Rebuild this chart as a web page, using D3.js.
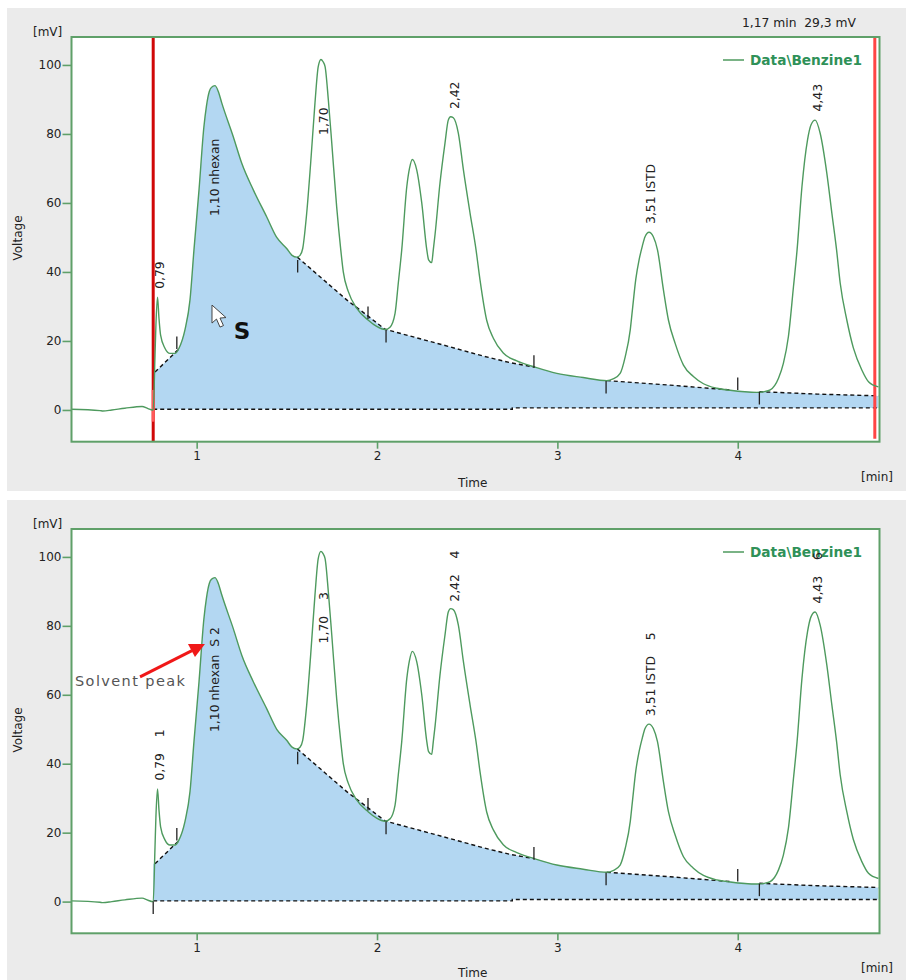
<!DOCTYPE html>
<html><head><meta charset="utf-8">
<script src="https://cdn.jsdelivr.net/npm/d3@7/dist/d3.min.js"></script>
<style>
html,body{margin:0;padding:0;background:#fff}
svg{display:block}
text{font-family:"DejaVu Sans",sans-serif;font-size:12px;fill:#222;white-space:pre}
</style></head><body><div id="c"></div>
<script>
// signal trace: retention time [min], voltage [mV]
const traceTime = [0.303,0.464,0.48,0.53,0.602,0.697,0.73,0.755,0.759,0.769,0.774,0.783,0.791,0.800,0.824,0.852,0.880,0.902,0.935,0.963,0.985,1.013,1.040,1.054,1.070,1.082,1.101,1.120,1.139,1.203,1.250,1.314,1.388,1.444,1.499,1.529,1.555,1.573,1.588,1.610,1.632,1.656,1.674,1.689,1.700,1.712,1.730,1.749,1.776,1.799,1.813,1.841,1.887,1.952,1.998,2.044,2.072,2.100,2.118,2.137,2.165,2.180,2.196,2.220,2.248,2.276,2.286,2.303,2.312,2.322,2.349,2.377,2.395,2.408,2.423,2.451,2.479,2.516,2.549,2.571,2.608,2.645,2.700,2.775,2.876,2.997,3.143,3.274,3.309,3.348,3.376,3.404,3.416,3.435,3.453,3.471,3.486,3.508,3.532,3.555,3.588,3.616,3.653,3.699,3.754,3.810,3.884,3.958,4.106,4.147,4.180,4.226,4.253,4.281,4.309,4.329,4.356,4.387,4.406,4.429,4.457,4.494,4.522,4.548,4.568,4.605,4.641,4.688,4.725,4.780];
const traceVolt = [0.2,-0.2,-0.3,0.0,0.5,1.0,0.4,0.0,0.0,15.8,24.5,32.7,26.6,21.7,17.9,16.4,16.4,17.9,23.2,31.9,46.4,63.8,82,88,92.3,93.5,94,92.3,89,79.2,71.5,63.8,56,50,46.8,44.8,44.3,44.8,46.8,57,71.5,89,99.5,101.6,101,99.5,89.9,77.4,59,46.4,40,34.3,29.5,26,24.2,23.3,24,28,36.8,46.4,64.7,70,72.6,69.6,60,46.4,43.5,42.7,46.4,51,65.7,77.4,84,85,84.7,80.2,69.6,57,46.4,37.7,26,20.8,16.5,14.2,12.4,10.6,9.4,8.5,9,10.6,15.4,23.2,29,38,43.5,47.5,50.2,51.5,50.2,46.4,34.8,26,19.3,13,9.7,7.6,6.3,5.7,5.1,5.3,5.8,9.2,13.5,21.3,35.7,46.4,64.7,78.3,82.6,84,80.2,68.6,57,46.4,36.8,26,18,11.6,8.2,6.7];

// integration baselines (dashed)
const baseTimes = [[0.769,0.902],[1.558,1.832,1.943,2.044,2.404,2.590,2.738,2.876],[3.274,3.625,3.958],[4.12,4.44,4.77]];
const baseVolts = [[11,17.7],[44.3,31.9,27.5,23.4,18.3,15.6,13.7,12.4],[8.5,7.2,5.8],[5.3,4.6,4.1]];
const zeroTimes = [0.759,2.75,2.75,4.78];
const zeroVolts = [0.2,0.2,0.6,0.6];

// peak boundary markers: time, mV, direction
const markTimes = [0.89,1.56,1.95,2.05,2.87,3.27,4.0,4.12];
const markVolts = [17.7,43.5,26.4,23.2,12.2,8.4,5.8,5.2];
const markDirs  = [1,-1,1,-1,1,-1,1,-1];
const startMarkTime = 0.759, startMarkVolt = 0;

// peak labels
const peakTimes = [0.796,1.101,1.702,2.428,3.517,4.44];
const labelsTop = ["0,79","1,10 nhexan","1,70","2,42","3,51 ISTD","4,43"];
const labelsBot = ["0,79    1","1,10 nhexan  S 2","1,70    3","2,42    4","3,51 ISTD    5","4,43    6"];
const labelVoltsTop = [35.1,56.2,79.7,87.2,53.9,86.5];
const labelVoltsBot = [35.1,49.2,74.9,87,53.8,86.5];

const xTicks = [1,2,3,4];
const yTicks = [0,20,40,60,80,100];
const xDomain = [0.306,4.786];
const yDomain = [-9.2,108.1];
const legendText = "Data\\Benzine1";
const readoutText = "1,17 min  29,3 mV";
const cursorTimes = [0.759,4.76];
const pointerAt = [1.085,30.4];
const sAt = [1.205,20.5];
const arrowFrom = [0.686,65.2];
const arrowTo = [1.046,74.7];

const green="#5fa069", trace="#4e9a5e", red="#d00808", fill="#b3d7f2";
const svg=d3.select("#c").append("svg").attr("width",906).attr("height",980);

function panel(opts){
  const {gy,gh,top,bottom}=opts;
  const g=svg.append("g");
  g.append("rect").attr("x",7).attr("y",gy).attr("width",899).attr("height",gh).attr("fill","#ebebeb");
  const x=d3.scaleLinear().domain(xDomain).range([71.5,879.5]);
  const y=d3.scaleLinear().domain(yDomain).range([bottom,top]);
  g.append("rect").attr("x",71.5).attr("y",top).attr("width",808).attr("height",bottom-top).attr("fill","#fff");

  const line=d3.line().x(d=>x(d[0])).y(d=>y(d[1]));
  const smooth=d3.line().x(d=>x(d[0])).y(d=>y(d[1])).curve(d3.curveMonotoneX);
  // fill polygon: baseline, trace in the peak-free stretches, zero line back
  const traceSlice=(a,b)=>traceTime.map((t,i)=>[t,traceVolt[i]]).filter(d=>d[0]>a&&d[0]<b);
  const seg=i=>baseTimes[i].map((t,j)=>[t,baseVolts[i][j]]);
  const upper=[...seg(0),...traceSlice(0.902,1.558),...seg(1),...traceSlice(2.876,3.274),...seg(2),...traceSlice(3.958,4.12),...seg(3),[xDomain[1]-0.007,4.0]];
  const lower=zeroTimes.map((t,i)=>[t,zeroVolts[i]]).reverse();
  g.append("path").attr("d",line([[0.759,zeroVolts[0]],[0.759,11],...upper,...lower])+"Z").attr("fill",fill);

  // dashed baselines
  const dashed=[seg(0),seg(1),seg(2),seg(3).concat([[4.78,4.0]]),zeroTimes.map((t,i)=>[t,zeroVolts[i]])];
  g.selectAll(".dash").data(dashed).join("path").attr("class","dash").attr("d",line)
    .attr("fill","none").attr("stroke","#111").attr("stroke-width",1.4).attr("stroke-dasharray","4 3");

  // cursors under the trace (top panel)
  if(opts.cursors){
    g.append("line").attr("x1",x(cursorTimes[0])).attr("x2",x(cursorTimes[0])).attr("y1",top).attr("y2",bottom)
      .attr("stroke",red).attr("stroke-width",3);
    g.append("line").attr("x1",x(cursorTimes[0])).attr("x2",x(cursorTimes[0])).attr("y1",y(5.8)).attr("y2",y(-3.4))
      .attr("stroke","#ff5a5a").attr("stroke-width",3);
    g.append("line").attr("x1",x(cursorTimes[1])).attr("x2",x(cursorTimes[1])).attr("y1",top).attr("y2",bottom-3)
      .attr("stroke","#ff4545").attr("stroke-width",3);
  }

  // trace
  g.append("path").attr("d",smooth(traceTime.map((t,i)=>[t,traceVolt[i]]))).attr("fill","none")
    .attr("stroke",trace).attr("stroke-width",1.4).attr("stroke-linejoin","round");

  // boundary markers
  const markLen=12.5;
  const marks=markTimes.map((t,i)=>[t,markVolts[i],markDirs[i]]);
  if(opts.startMark) marks.push([startMarkTime,startMarkVolt,-1]);
  g.selectAll(".mark").data(marks).join("line").attr("class","mark")
    .attr("x1",d=>x(d[0])).attr("x2",d=>x(d[0])).attr("y1",d=>y(d[1])).attr("y2",d=>y(d[1])-d[2]*markLen)
    .attr("stroke","#222").attr("stroke-width",1.3);

  // frame
  g.append("rect").attr("x",71.5).attr("y",top).attr("width",808).attr("height",bottom-top)
    .attr("fill","none").attr("stroke",green).attr("stroke-width",2);

  // axes
  const ax=g.append("g").attr("transform",`translate(0,${bottom})`).call(d3.axisBottom(x).tickValues(xTicks).tickFormat(d3.format("d")).tickSize(7).tickPadding(3));
  const ay=g.append("g").attr("transform","translate(71.5,0)").call(d3.axisLeft(y).tickValues(yTicks).tickSize(9).tickPadding(1));
  [ax,ay].forEach(a=>{a.select(".domain").remove();a.selectAll("line").attr("stroke",green).attr("stroke-width",1.6);
    a.selectAll("text").style("font-family","'DejaVu Sans'").style("font-size","12px").attr("fill","#222");});

  // axis captions
  g.append("text").attr("x",33).attr("y",top-1).text("[mV]");
  g.append("text").attr("transform",`translate(22,${top+201}) rotate(-90)`).attr("text-anchor","middle").text("Voltage");
  g.append("text").attr("x",458).attr("y",bottom+opts.timeDy).text("Time");
  g.append("text").attr("x",861).attr("y",bottom+39).text("[min]");

  // legend
  g.append("line").attr("x1",723).attr("x2",744).attr("y1",top+23).attr("y2",top+23).attr("stroke",trace).attr("stroke-width",1.5);
  g.append("text").attr("x",750).attr("y",top+28).text(legendText)
    .style("font-weight","bold").style("font-size","13.7px").style("fill","#2f9158");

  // peak labels
  g.selectAll(".pk").data(opts.labels.map((s,i)=>({s,t:peakTimes[i],v:opts.labelVolts[i]}))).join("text").attr("class","pk")
    .attr("transform",d=>`translate(${x(d.t)+4.5},${y(d.v)}) rotate(-90)`).style("font-size","12.4px").text(d=>d.s);
  return {g,x,y};
}

const p1=panel({gy:8,gh:483,top:37,bottom:441.7,timeDy:45.5,cursors:true,labels:labelsTop,labelVolts:labelVoltsTop});
const p2=panel({gy:500,gh:480,top:529,bottom:933.3,timeDy:43.5,startMark:true,labels:labelsBot,labelVolts:labelVoltsBot});

// readout
p1.g.append("text").attr("x",742).attr("y",27).style("font-size","12.3px").text(readoutText);

// mouse pointer and S
const px=p1.x(pointerAt[0]), py=p1.y(pointerAt[1]);
p1.g.append("path").attr("transform",`translate(${px},${py})`)
  .attr("d","M0,0 L0,18 L4.5,14 L8,22 L11.5,20.5 L8,13 L14,12.5 Z")
  .attr("fill","#fff").attr("stroke","#444").attr("stroke-width",1);
p1.g.append("text").attr("x",p1.x(sAt[0])).attr("y",p1.y(sAt[1])).text("S")
  .style("font-weight","bold").style("font-size","23px").style("fill","#111");

// Solvent peak annotation
const fx=p2.x(arrowFrom[0]),fy=p2.y(arrowFrom[1]),tx=p2.x(arrowTo[0]),ty=p2.y(arrowTo[1]);
p2.g.append("line").attr("x1",fx).attr("y1",fy).attr("x2",fx+(tx-fx)*0.8).attr("y2",fy+(ty-fy)*0.8).attr("stroke","#f01818").attr("stroke-width",3);
p2.g.append("path").attr("transform",`translate(${tx},${ty})`).attr("d","M0,0 L-17,0 L-10,13 Z").attr("fill","#f01818");
p2.g.append("text").attr("x",75).attr("y",686).text("Solvent peak")
  .style("font-size","14.5px").style("letter-spacing","1.4px").style("fill","#555");
</script></body></html>
